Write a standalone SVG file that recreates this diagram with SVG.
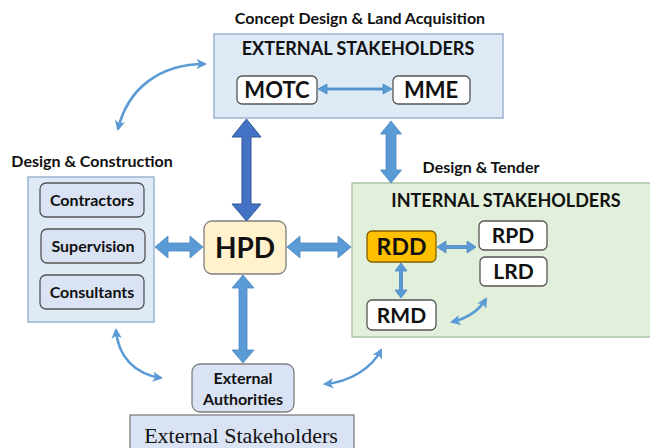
<svg xmlns="http://www.w3.org/2000/svg" width="650" height="448" viewBox="0 0 650 448">
  <defs>
    <marker id="head" viewBox="0 0 10 10" refX="8" refY="5" markerWidth="4" markerHeight="4" orient="auto-start-reverse" markerUnits="strokeWidth">
      <path d="M0,0 L10,5 L0,10 L2.5,5 Z" fill="#5b9bd5"/>
    </marker>
    <style>
      .lbl { font-family: Lato, "Open Sans", "Liberation Sans", sans-serif; font-weight: bold; fill: #111; text-anchor: middle; }
      .group-blue { fill: #deebf7; stroke: #8eaacb; stroke-width: 1.3; }
      .group-green { fill: #e2efda; stroke: #a3bd98; stroke-width: 1.3; }
      .node-white { fill: #ffffff; stroke: #555; stroke-width: 1.3; }
      .node-blue { fill: #dae3f3; stroke: #555; stroke-width: 1.3; }
      .blk { fill: #5b9bd5; stroke: #4a86c2; stroke-width: 0.8; }
      .blk-dark { fill: #4472c4; stroke: #2f5597; stroke-width: 1; }
      .curve { fill: none; stroke: #5b9bd5; stroke-width: 2.6; marker-start: url(#head); marker-end: url(#head); }
    </style>
  </defs>

  <!-- section headings -->
  <text class="lbl" x="360" y="24" font-size="16">Concept Design &amp; Land Acquisition</text>
  <text class="lbl" x="92" y="167" font-size="16">Design &amp; Construction</text>
  <text class="lbl" x="481" y="173" font-size="16">Design &amp; Tender</text>

  <!-- external stakeholders (top) -->
  <g id="external-top">
    <rect class="group-blue" x="214" y="34" width="289" height="84"/>
    <text class="lbl" x="358" y="55" font-size="18">EXTERNAL STAKEHOLDERS</text>
  </g>
  <g id="motc">
    <rect class="node-white" x="237" y="76" width="80" height="28" rx="5"/>
    <text class="lbl" x="277" y="98" font-size="22">MOTC</text>
  </g>
  <g id="mme">
    <rect class="node-white" x="393" y="76" width="77" height="28" rx="5"/>
    <text class="lbl" x="431" y="98" font-size="22">MME</text>
  </g>

  <!-- design & construction group -->
  <g id="design-construction">
    <rect class="group-blue" x="28" y="177" width="126" height="145"/>
  </g>
  <g id="contractors">
    <rect class="node-blue" x="40" y="183" width="104" height="34" rx="6"/>
    <text class="lbl" x="92" y="205.5" font-size="16">Contractors</text>
  </g>
  <g id="supervision">
    <rect class="node-blue" x="41" y="229" width="104" height="34" rx="6"/>
    <text class="lbl" x="93" y="251.5" font-size="16">Supervision</text>
  </g>
  <g id="consultants">
    <rect class="node-blue" x="40" y="275" width="104" height="34" rx="6"/>
    <text class="lbl" x="92" y="297.5" font-size="16">Consultants</text>
  </g>

  <!-- HPD -->
  <g id="hpd">
    <rect x="204" y="221" width="82" height="53" rx="8" fill="#fff2cc" stroke="#7f7f7f" stroke-width="1.3"/>
    <text class="lbl" x="245" y="258" font-size="28">HPD</text>
  </g>

  <!-- internal stakeholders group -->
  <g id="internal">
    <rect class="group-green" x="352" y="183" width="305" height="154"/>
    <text class="lbl" x="506" y="207" font-size="18">INTERNAL STAKEHOLDERS</text>
  </g>
  <g id="rdd">
    <rect x="367" y="231" width="69" height="31" rx="5" fill="#ffc000" stroke="#7f6000" stroke-width="1.3"/>
    <text class="lbl" x="401.5" y="255" font-size="23">RDD</text>
  </g>
  <g id="rpd">
    <rect class="node-white" x="479" y="221" width="68" height="29" rx="5"/>
    <text class="lbl" x="513" y="243" font-size="21">RPD</text>
  </g>
  <g id="lrd">
    <rect class="node-white" x="480" y="257" width="67" height="29" rx="5"/>
    <text class="lbl" x="513.5" y="279" font-size="21">LRD</text>
  </g>
  <g id="rmd">
    <rect class="node-white" x="367" y="300" width="69" height="30" rx="5"/>
    <text class="lbl" x="401.5" y="323" font-size="21">RMD</text>
  </g>

  <!-- external authorities -->
  <g id="external-authorities">
    <rect x="192" y="364" width="102" height="48" rx="8" fill="#dae3f3" stroke="#7f7f7f" stroke-width="1.3"/>
    <text class="lbl" x="243" y="384" font-size="16">External</text>
    <text class="lbl" x="243" y="405" font-size="16">Authorities</text>
  </g>
  <g id="external-bottom">
    <rect x="130" y="415" width="224" height="40" fill="#dae3f3" stroke="#7f7f7f" stroke-width="1.3"/>
    <text x="241" y="443" font-family="'Liberation Serif', 'Times New Roman', serif" font-size="22" fill="#111" text-anchor="middle">External Stakeholders</text>
  </g>

  <!-- connectors -->
  <g id="connectors">
    <!-- top group <-> HPD -->
    <polygon class="blk-dark" points="246.5,119 261,137 251,137 251,204 261,204 246.5,221 232,204 242,204 242,137 232,137"/>
    <!-- top group <-> internal group -->
    <polygon class="blk" points="391,121 401.5,134 396,134 396,170 401.5,170 391,183 380.5,170 386,170 386,134 380.5,134"/>
    <!-- design & construction <-> HPD -->
    <polygon class="blk" points="155,247 168,236 168,243 190,243 190,236 203,247 190,258 190,251 168,251 168,258"/>
    <!-- HPD <-> internal group -->
    <polygon class="blk" points="287,247 300,236 300,243 338,243 338,236 351,247 338,258 338,251 300,251 300,258"/>
    <!-- HPD <-> external authorities -->
    <polygon class="blk" points="243,275 254,288 247,288 247,350 254,350 243,363 232,350 239,350 239,288 232,288"/>
    <!-- RDD <-> RPD -->
    <polygon class="blk" points="437,247 446,241 446,245.5 467,245.5 467,241 476,247 467,253 467,248.5 446,248.5 446,253"/>
    <!-- RDD <-> RMD -->
    <polygon class="blk" points="401,263 407,271 402.5,271 402.5,290 407,290 401,298 395,290 399.5,290 399.5,271 395,271"/>
    <!-- MOTC <-> MME -->
    <polygon class="blk" points="318,89 327,84 327,88 383,88 383,84 392,89 383,94 383,90 327,90 327,94"/>
    <!-- curved links -->
    <path class="curve" d="M118,129 C128,88 160,64 205,64"/>
    <path class="curve" d="M116,330 C118,357 135,374 161,378"/>
    <path class="curve" d="M325,384 C350,382 372,368 381,350"/>
    <path class="curve" d="M452,322 C468,318 480,309 486,299"/>
  </g>
</svg>
